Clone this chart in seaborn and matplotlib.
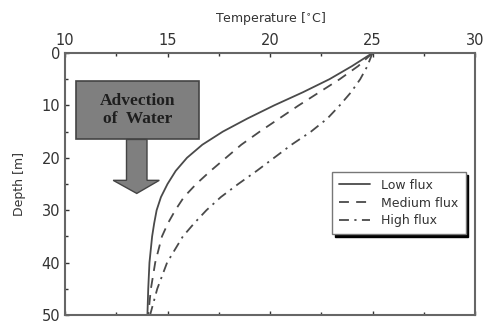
import matplotlib
matplotlib.use("Agg")
import matplotlib.pyplot as plt
import matplotlib.patches as mpatches
import seaborn as sns
import pandas as pd
import numpy as np

# Data
depth = [0, 2.5, 5, 7.5, 10, 12.5, 15, 17.5, 20, 22.5, 25, 27.5, 30, 32.5, 35, 40, 45, 50]
low_flux = [25.0, 24.0, 22.9, 21.6, 20.2, 18.9, 17.7, 16.7, 15.95, 15.4, 15.0, 14.68, 14.47, 14.35, 14.25, 14.12, 14.06, 14.02]
medium_flux = [25.0, 24.3, 23.4, 22.4, 21.4, 20.45, 19.5, 18.6, 17.85, 17.1, 16.4, 15.8, 15.38, 15.02, 14.73, 14.4, 14.19, 14.06]
high_flux = [25.0, 24.75, 24.4, 23.95, 23.4, 22.8, 22.0, 21.05, 20.2, 19.35, 18.45, 17.6, 16.9, 16.3, 15.75, 14.98, 14.5, 14.15]
series_names = ["Low flux", "Medium flux", "High flux"]

frames = []
for name, vals in zip(series_names, [low_flux, medium_flux, high_flux]):
    frames.append(pd.DataFrame({"depth": depth, "temp": vals, "flux": name}))
df = pd.concat(frames, ignore_index=True)

sns.set_theme(style="white")
plt.rcParams["font.family"] = ["DejaVu Sans"]

fig = plt.figure(figsize=(4.88, 3.26), dpi=100)
ax = fig.add_axes([65/488, 1 - 315/326, (475-65)/488, (315-53)/326])

line_color = "#4a4a4a"
lw = 1.3
dash_map = {"Low flux": "", "Medium flux": (5.5, 4), "High flux": (5.5, 3, 1.2, 3)}
sns.lineplot(data=df, x="temp", y="depth", hue="flux", style="flux",
             palette=[line_color]*3, dashes=dash_map,
             sort=False, estimator=None, linewidth=lw, ax=ax, legend=False)

ax.set_xlim(10, 30)
ax.set_ylim(50, 0)
ax.xaxis.set_ticks_position("both")
ax.xaxis.set_label_position("top")
ax.tick_params(axis="x", which="both", labeltop=True, labelbottom=False, direction="in",
               top=True, bottom=True, labelsize=10.5, colors="#333333", length=3, width=1)
ax.tick_params(axis="y", which="both", direction="in", left=True, right=False,
               labelsize=10.5, colors="#333333", length=3, width=1)
ax.set_xticks([10, 15, 20, 25, 30])
ax.set_xticks(np.arange(10, 30.1, 2.5), minor=True)
ax.set_yticks([0, 10, 20, 30, 40, 50])
ax.set_yticks(np.arange(0, 50.1, 5), minor=True)
ax.tick_params(axis="both", which="minor", length=2.5)
ax.set_xlabel("Temperature [$^{\\circ}$C]", fontsize=9, color="#333333", labelpad=8)
ax.set_ylabel("Depth [m]", fontsize=9, color="#333333", labelpad=11)
for sp in ax.spines.values():
    sp.set_color("#666666")
    sp.set_linewidth(1.5)

# Advection box and arrow
ax.add_patch(mpatches.Rectangle((10.54, 5.3), 6.0, 11.2, facecolor="#7f7f7f",
                                edgecolor="#444444", linewidth=1.2, zorder=3))
ax.text(13.54, 10.9, "Advection\nof  Water", ha="center", va="center",
        fontsize=12.5, fontweight="bold", family=["Liberation Serif"], color="#1e1e1e",
        linespacing=1.2, zorder=4)
arrow = mpatches.Polygon([(13.0, 16.5), (14.0, 16.5), (14.0, 24.3), (14.6, 24.3),
                          (13.5, 26.8), (12.35, 24.3), (13.0, 24.3)],
                         closed=True, facecolor="#7f7f7f", edgecolor="#444444",
                         linewidth=1.0, zorder=3)
ax.add_patch(arrow)

# Legend
handles = [plt.Line2D([], [], color=line_color, lw=lw, linestyle="-"),
           plt.Line2D([], [], color=line_color, lw=lw, dashes=dash_map["Medium flux"]),
           plt.Line2D([], [], color=line_color, lw=lw, dashes=dash_map["High flux"])]
leg = ax.legend(handles, series_names, loc="upper left",
                bbox_to_anchor=((332-65)/410, 1 - (172-53)/262),
                fontsize=9, frameon=True, fancybox=False, shadow={"color": "black", "alpha": 1},
                borderpad=0.55, labelspacing=0.38, handlelength=2.5, handletextpad=0.9,
                borderaxespad=0)
leg.get_frame().set_edgecolor("#777777")
leg.get_frame().set_linewidth(1.0)
for t in leg.get_texts():
    t.set_color("#333333")

fig.savefig("out.png", dpi=100)
